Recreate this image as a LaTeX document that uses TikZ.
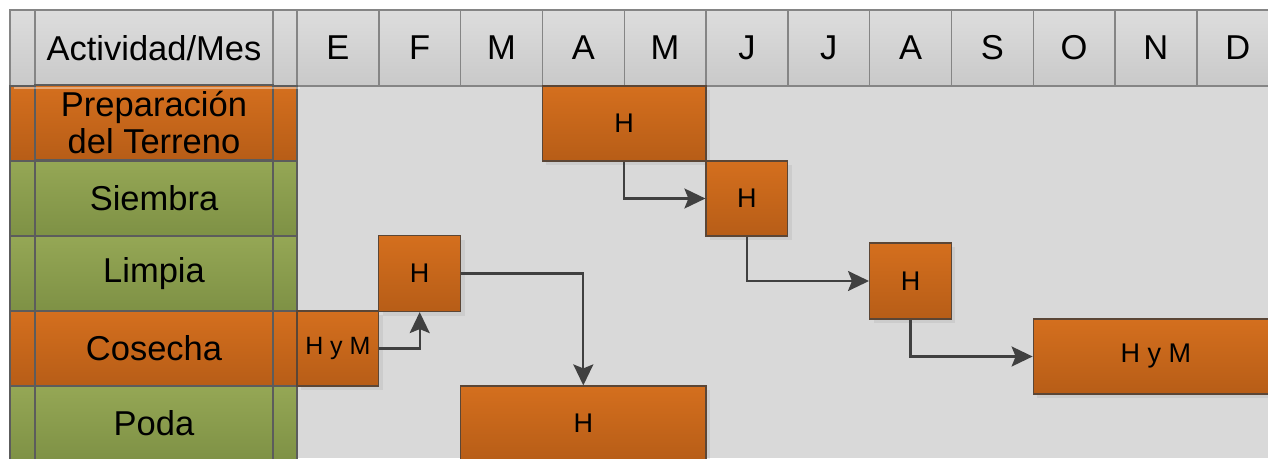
\documentclass[tikz,border=0pt]{standalone}
\usepackage{fontspec}
\setmainfont{Liberation Sans}
\usetikzlibrary{arrows.meta, shadows}

\definecolor{hdrtop}{HTML}{DDDDDD}
\definecolor{hdrbot}{HTML}{C9C9C9}
\definecolor{hdrline}{HTML}{858585}
\definecolor{orgtop}{HTML}{D46F1E}
\definecolor{orgbot}{HTML}{B75D17}
\definecolor{grntop}{HTML}{95A755}
\definecolor{grnbot}{HTML}{7E9145}
\definecolor{cellline}{HTML}{5C5C5C}
\definecolor{barline}{HTML}{5B4636}
\definecolor{gridbg}{HTML}{D9D9D9}
\definecolor{flowcol}{HTML}{404040}

\begin{document}
\begin{tikzpicture}
            [x=1pt, y=-1pt, >={Stealth[length=21pt, width=20pt, inset=4pt]},
             hdr/.style={draw=hdrline, line width=1.4pt, top color=hdrtop, bottom color=hdrbot, inner sep=0pt, minimum height=76pt, font=\fontsize{34.5}{38}\selectfont},
             month/.style={hdr, minimum width=81.8pt},
             orgcell/.style={draw=cellline, line width=1.4pt, top color=orgtop, bottom color=orgbot, inner sep=0pt, minimum height=75pt, align=center, font=\fontsize{34.5}{37}\selectfont},
             grncell/.style={orgcell, top color=grntop, bottom color=grnbot},
             bar/.style={draw=barline, line width=1.2pt, top color=orgtop, bottom color=orgbot, inner sep=0pt, minimum height=75pt, font=\fontsize{27}{30}\selectfont, drop shadow={shadow xshift=4pt, shadow yshift=-4pt, opacity=0.06, fill=black}},
             flow/.style={->, draw=flowcol, line width=2.3pt}]
            \useasboundingbox (0, 0) rectangle (1268, 458);
            \clip (0, 0) rectangle (1268, 458);
            \fill[gridbg] (297, 86) rectangle (1268, 458);

            % header
            \node[hdr, minimum width=25pt] (hStripL) at (22.5, 48) {};
            \node[hdr, minimum width=238pt] (hAct) at (154, 48) {Actividad/Mes};
            \node[hdr, minimum width=24pt] (hStripR) at (285, 48) {};
            \node[month] (hE) at (337.9, 48) {E};
            \node[month] (hF) at (419.7, 48) {F};
            \node[month] (hMar) at (501.5, 48) {M};
            \node[month] (hAbr) at (583.3, 48) {A};
            \node[month] (hMay) at (665.1, 48) {M};
            \node[month] (hJun) at (746.9, 48) {J};
            \node[month] (hJul) at (828.7, 48) {J};
            \node[month] (hAgo) at (910.5, 48) {A};
            \node[month] (hS) at (992.3, 48) {S};
            \node[month] (hO) at (1074.1, 48) {O};
            \node[month] (hN) at (1155.9, 48) {N};
            \node[month] (hD) at (1237.7, 48) {D};

            % activities
            \node[orgcell, minimum width=25pt] (prepL) at (22.5, 123.5) {};
            \node[orgcell, minimum width=238pt] (prepLbl) at (154, 122.5) {Preparación\\del Terreno};
            \node[orgcell, minimum width=24pt] (prepR) at (285, 123.5) {};
            \node[grncell, minimum width=25pt] (siemL) at (22.5, 198.5) {};
            \node[grncell, minimum width=238pt] (siemLbl) at (154, 198.5) {Siembra};
            \node[grncell, minimum width=24pt] (siemR) at (285, 198.5) {};
            \node[grncell, minimum width=25pt] (limpL) at (22.5, 273.5) {};
            \node[grncell, minimum width=238pt] (limpLbl) at (154, 273.5) {Limpia};
            \node[grncell, minimum width=24pt] (limpR) at (285, 273.5) {};
            \node[orgcell, minimum width=25pt] (cosL) at (22.5, 348.5) {};
            \node[orgcell, minimum width=238pt] (cosLbl) at (154, 348.5) {Cosecha};
            \node[orgcell, minimum width=24pt] (cosR) at (285, 348.5) {};
            \node[grncell, minimum width=25pt] (podaL) at (22.5, 423.5) {};
            \node[grncell, minimum width=238pt] (podaLbl) at (154, 423.5) {Poda};
            \node[grncell, minimum width=24pt] (podaR) at (285, 423.5) {};
            \fill[white, opacity=0.4] (14, 87) rectangle (300, 89);

            % bars
            \node[bar, minimum width=163.6pt] (prep) at (624.2, 123.5) {H};
            \node[bar, minimum width=81.8pt] (siembra) at (746.9, 198.5) {H};
            \node[bar, minimum width=81.8pt, minimum height=76pt] (limpia) at (419.7, 273.5) {H};
            \node[bar, minimum width=81.8pt, font=\fontsize{25}{28}\selectfont] (cosecha) at (337.9, 348.5) {H y M};
            \node[bar, minimum width=245.4pt] (poda) at (583.3, 423.5) {H};
            \node[bar, minimum width=81.8pt, minimum height=76pt] (agosto) at (910.5, 281) {H};
            \node[bar, minimum width=245.4pt] (octubre) at (1155.9, 356.5) {H y M};

            \draw[flow] (prep.south) |- (siembra.west);
            \draw[flow] (siembra.south) |- (agosto.west);
            \draw[flow] (agosto.south) |- (octubre.west);
            \draw[flow] (cosecha.east) -| (limpia.south);
            \draw[flow] (limpia.east) -| (poda.north);
        \end{tikzpicture}
\end{document}
